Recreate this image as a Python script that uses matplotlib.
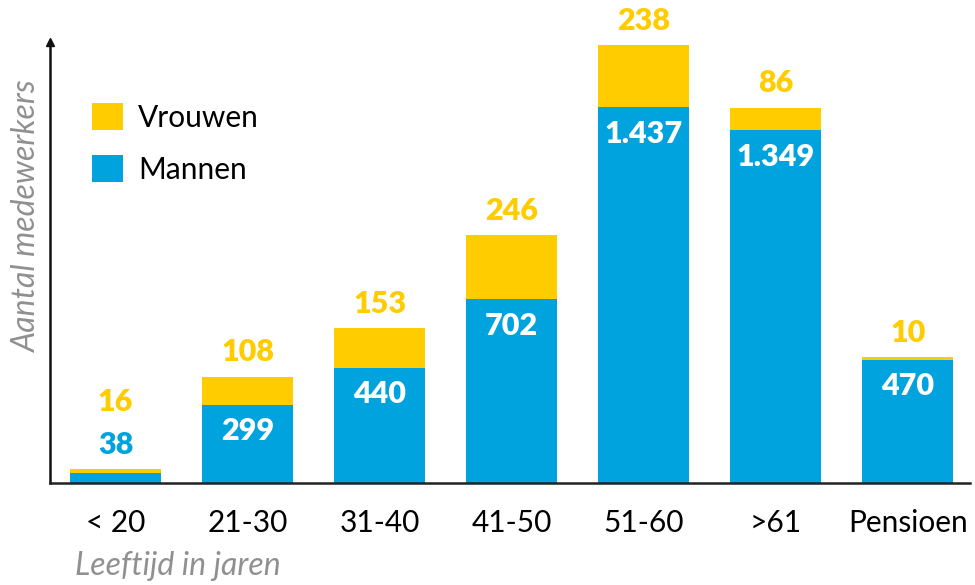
import matplotlib
matplotlib.use("Agg")
import matplotlib.pyplot as plt

categories = ["< 20", "21-30", "31-40", "41-50", "51-60", ">61", "Pensioen"]
mannen = [38, 299, 440, 702, 1437, 1349, 470]
vrouwen = [16, 108, 153, 246, 238, 86, 10]
mannen_labels = ["38", "299", "440", "702", "1.437", "1.349", "470"]
vrouwen_labels = ["16", "108", "153", "246", "238", "86", "10"]

BLUE = "#00A3DD"
YELLOW = "#FFCC00"

plt.rcParams['font.family'] = ['Lato', 'DejaVu Sans']

fig = plt.figure(figsize=(9.75, 5.85), dpi=100)
ax = fig.add_axes([49.5/975, 1-483/585, (970-49.5)/975, (483-42)/585])

x = list(range(len(categories)))
ax.bar(x, mannen, width=0.69, color=BLUE, label="Mannen", zorder=2)
ax.bar(x, vrouwen, width=0.69, bottom=mannen, color=YELLOW, label="Vrouwen", zorder=2)

ax.set_xlim(-0.5, 6.47)
ax.set_ylim(0, 1686)

NUM = dict(fontsize=22, fontweight="heavy")
for i in x:
    total = mannen[i] + vrouwen[i]
    if i == 0:
        ax.annotate(mannen_labels[i], (i, total), xytext=(0, 17), textcoords="offset points",
                    ha="center", va="center", color=BLUE, **NUM)
        ax.annotate(vrouwen_labels[i], (i, total), xytext=(0, 48.5), textcoords="offset points",
                    ha="center", va="center", color=YELLOW, **NUM)
    else:
        ax.annotate(mannen_labels[i], (i, mannen[i]), xytext=(0, -19), textcoords="offset points",
                    ha="center", va="center", color="white", **NUM)
        ax.annotate(vrouwen_labels[i], (i, total), xytext=(0, 17.5), textcoords="offset points",
                    ha="center", va="center", color=YELLOW, **NUM)

for s in ["top", "right"]:
    ax.spines[s].set_visible(False)
ax.spines["left"].set_linewidth(1.8)
ax.spines["bottom"].set_linewidth(1.8)
ax.spines["left"].set_color("#111111")
ax.spines["bottom"].set_color("#222222")
ax.plot(0, 1, marker="^", color="#111111", markersize=6, transform=ax.transAxes, clip_on=False)

ax.set_yticks([])
ax.set_xticks(x)
ax.set_xticklabels(categories, fontsize=21.5, color="black")
ax.tick_params(axis="x", length=0, pad=19)

fig.text(27/975, 1-217/585, "Aantal medewerkers", rotation=90, ha="center", va="center",
         fontsize=23, fontstyle="italic", fontweight="normal", color="#909090")
fig.text(75/975, 1-566/585, "Leeftijd in jaren", ha="left", va="center",
         fontsize=23, fontstyle="italic", fontweight="normal", color="#909090")

handles, labels = ax.get_legend_handles_labels()
leg = ax.legend(handles[::-1], labels[::-1], loc="upper left", bbox_to_anchor=(31/920.5, 1-(91-42)/441),
                frameon=False, fontsize=21.5, handlelength=1.03, handleheight=1.03,
                handletextpad=0.5, labelspacing=0.78, borderaxespad=0)

fig.savefig("out.png", dpi=100)
